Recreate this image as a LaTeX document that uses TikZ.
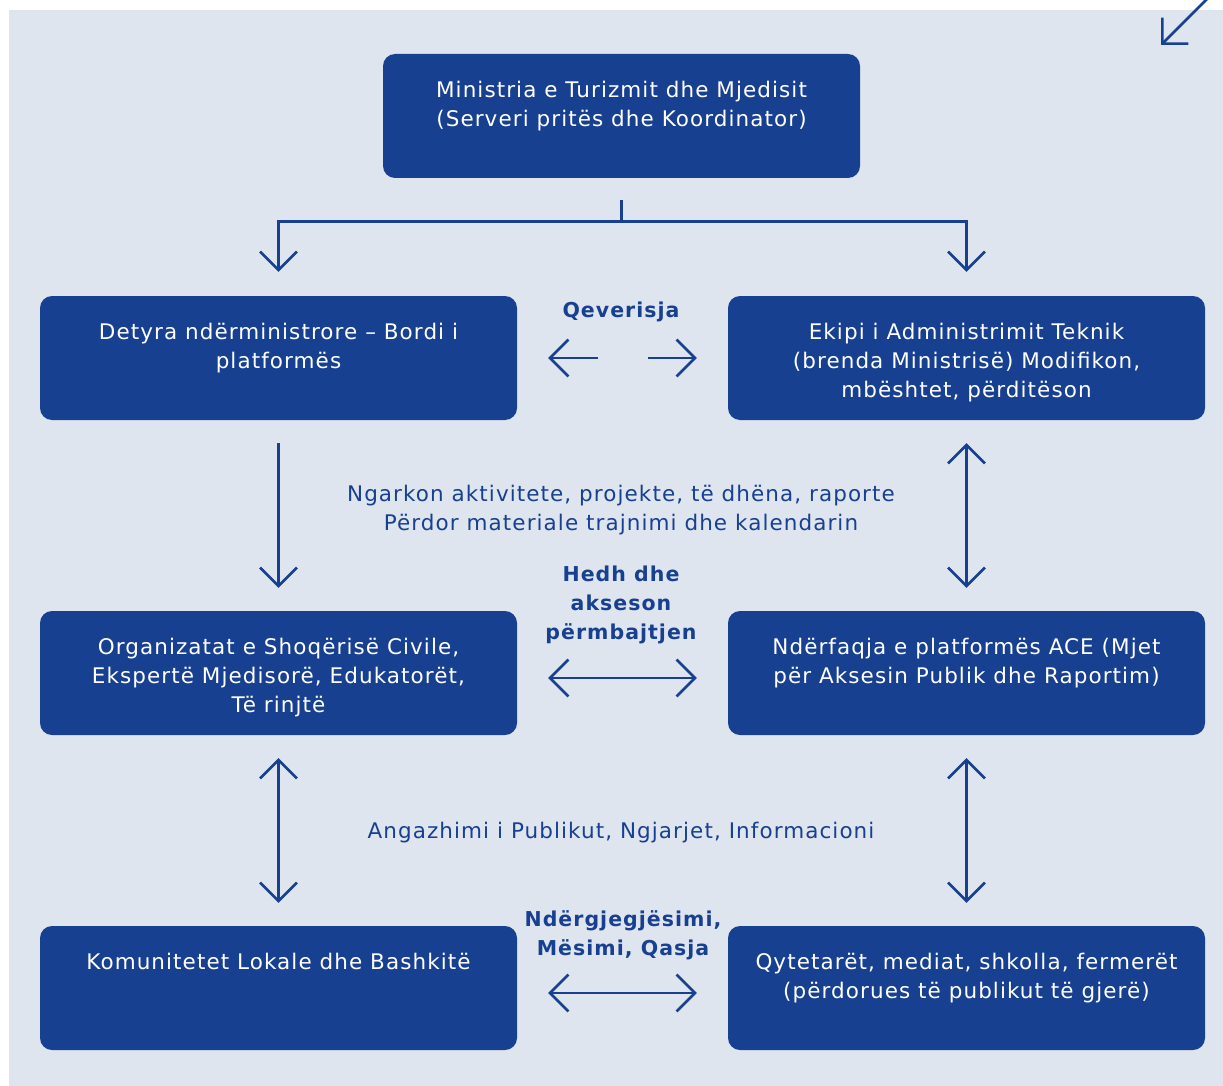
\documentclass[tikz,border=0pt]{standalone}
\usepackage{fontspec}
\setmainfont{DejaVu Sans}[LetterSpace=5]
\usetikzlibrary{arrows.meta, positioning, calc}
\definecolor{boxblue}{RGB}{23,64,145}
\definecolor{panelgrey}{RGB}{223,229,238}

\begin{document}
\begin{tikzpicture}[
    x=1pt, y=-1pt,
    panel/.style={draw=none, fill=boxblue, rounded corners=12pt, minimum width=477pt, minimum height=124pt, inner sep=0pt},
    boxtext/.style={text=white, align=center, font=\fontsize{21.5}{29}\selectfont, anchor=north, inner sep=0pt},
    midtext/.style={text=boxblue, align=center, font=\fontsize{21.5}{29}\selectfont, anchor=north, inner sep=0pt},
    midbold/.style={midtext, font=\fontsize{20.5}{29}\selectfont\bfseries},
    arrow/.style={-{Straight Barb[angle=90:26pt]}, line width=2.6pt, boxblue},
    twoway/.style={{Straight Barb[angle=90:26pt]}-{Straight Barb[angle=90:26pt]}, line width=2.6pt, boxblue},
    link/.style={line width=2.6pt, boxblue}
]
    \useasboundingbox (0,0) rectangle (1223,1086);
    \fill[panelgrey] (9,10) rectangle (1223,1086);

    % Boxes
    \node[panel] (ministria) at (621.5,116) {};
    \node[boxtext] (ministriaTxt) at ([yshift=-27]ministria.north) {Ministria e Turizmit dhe Mjedisit\\(Serveri pritës dhe Koordinator)};

    \node[panel] (detyra) at (278.5,358) {};
    \node[boxtext] (detyraTxt) at ([yshift=-27]detyra.north) {Detyra ndërministrore -- Bordi i\\platformës};

    \node[panel] (ekipi) at (966.5,358) {};
    \node[boxtext] (ekipiTxt) at ([yshift=-27]ekipi.north) {Ekipi i Administrimit Teknik\\(brenda Ministrisë) Modifikon,\\mbështet, përditëson};

    \node[panel] (organizatat) at (278.5,673) {};
    \node[boxtext] (organizatatTxt) at ([yshift=-27]organizatat.north) {Organizatat e Shoqërisë Civile,\\Ekspertë Mjedisorë, Edukatorët,\\Të rinjtë};

    \node[panel] (nderfaqja) at (966.5,673) {};
    \node[boxtext] (nderfaqjaTxt) at ([yshift=-27]nderfaqja.north) {Ndërfaqja e platformës ACE (Mjet\\për Aksesin Publik dhe Raportim)};

    \node[panel] (komunitetet) at (278.5,988) {};
    \node[boxtext] (komunitetetTxt) at ([yshift=-27]komunitetet.north) {Komunitetet Lokale dhe Bashkitë};

    \node[panel] (qytetaret) at (966.5,988) {};
    \node[boxtext] (qytetaretTxt) at ([yshift=-27]qytetaret.north) {Qytetarët, mediat, shkolla, fermerët\\(përdorues të publikut të gjerë)};

    % Labels between the boxes
    \node[midbold] (qeverisja) at (621,302) {Qeverisja};
    \node[midtext] (ngarkon) at (621,485) {Ngarkon aktivitete, projekte, të dhëna, raporte\\Përdor materiale trajnimi dhe kalendarin};
    \node[midbold] (hedh) at (621,566) {Hedh dhe\\akseson\\përmbajtjen};
    \node[midtext] (angazhimi) at (621,822) {Angazhimi i Publikut, Ngjarjet, Informacioni};
    \node[midbold] (ndergjegjesimi) at (623,910) {Ndërgjegjësimi,\\Mësimi, Qasja};

    % Connectors
    \coordinate (split) at ([yshift=-43]ministria.south);
    \draw[link] ([yshift=-22]ministria.south) -- (split);
    \draw[arrow, shorten >=24pt] (split) -| (detyra.north);
    \draw[arrow, shorten >=24pt] (split) -| (ekipi.north);

    \coordinate (govmid) at ($(detyra.east)!0.5!(ekipi.west)$);
    \draw[arrow, shorten <=25pt, shorten >=31pt] (govmid) -- (detyra.east);
    \draw[arrow, shorten <=25pt, shorten >=31pt] (govmid) -- (ekipi.west);

    \draw[arrow, shorten <=23pt, shorten >=23pt] (detyra.south) -- (organizatat.north);
    \draw[twoway, shorten <=23pt, shorten >=23pt] (ekipi.south) -- (nderfaqja.north);
    \draw[twoway, shorten <=31pt, shorten >=31pt] ([yshift=-5]organizatat.east) -- ([yshift=-5]nderfaqja.west);
    \draw[twoway, shorten <=23pt, shorten >=23pt] (organizatat.south) -- (komunitetet.north);
    \draw[twoway, shorten <=23pt, shorten >=23pt] (nderfaqja.south) -- (qytetaret.north);
    \draw[twoway, shorten <=31pt, shorten >=31pt] ([yshift=-5]komunitetet.east) -- ([yshift=-5]qytetaret.west);

    % Corner arrow
    \coordinate (cornerIn) at (1207,-1);
    \coordinate (cornerTip) at (1161,45);
    \draw[arrow] (cornerIn) -- (cornerTip);
\end{tikzpicture}
\end{document}
